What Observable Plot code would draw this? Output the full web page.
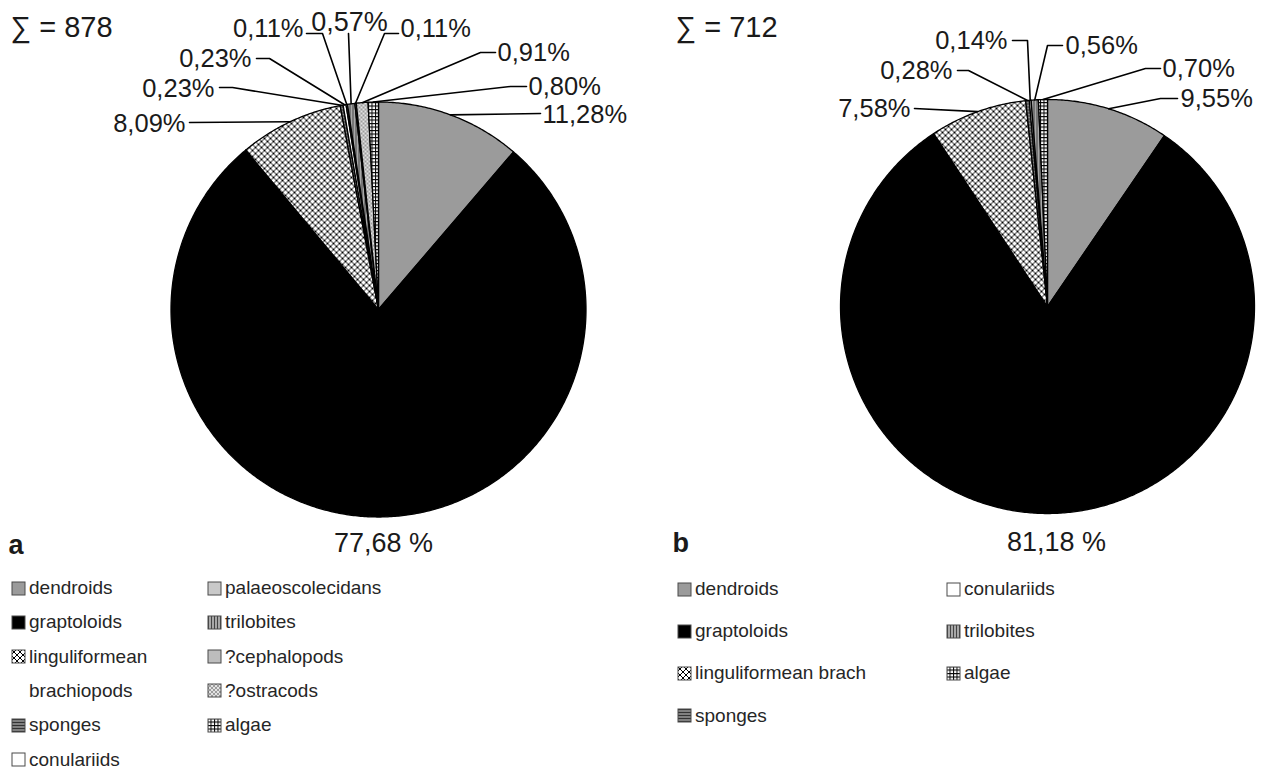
<!DOCTYPE html>
<html><head><meta charset="utf-8">
<script src="https://cdn.jsdelivr.net/npm/d3@7"></script>
<script src="https://cdn.jsdelivr.net/npm/@observablehq/plot@0.6"></script>
<style>
body{margin:0;background:#fff;font-family:"Liberation Sans",Arial,sans-serif;}
#wrap{position:relative;width:1262px;height:769px;overflow:hidden;}
#wrap > svg.plot{position:absolute;left:0;top:0;}
.leg{position:absolute;height:20px;display:flex;align-items:center;font-size:19px;line-height:20px;color:#262626;white-space:nowrap;}
.leg svg{flex:none;}
</style></head><body>
<svg width="0" height="0" style="position:absolute">
  <defs>
    <pattern id="p-cross" patternUnits="userSpaceOnUse" width="6" height="6">
      <rect width="6" height="6" fill="#fff"/>
      <path d="M0,0L6,6M6,0L0,6" stroke="#000" stroke-width="1"/>
    </pattern>
    <pattern id="p-grid" patternUnits="userSpaceOnUse" width="3.5" height="3.5">
      <rect width="3.5" height="3.5" fill="#fff"/>
      <path d="M0.5,0V3.5M0,0.5H3.5" stroke="#000" stroke-width="1"/>
    </pattern>
    <pattern id="p-dots" patternUnits="userSpaceOnUse" width="4" height="4">
      <rect width="4" height="4" fill="#e2e2e2"/>
      <circle cx="1" cy="1" r="0.8" fill="#444"/>
      <circle cx="3" cy="3" r="0.8" fill="#444"/>
    </pattern>
    <pattern id="p-vert" patternUnits="userSpaceOnUse" width="3" height="3">
      <rect width="3" height="3" fill="#a8a8a8"/>
      <path d="M1.5,0V3" stroke="#444" stroke-width="1"/>
    </pattern>
    <pattern id="p-horiz" patternUnits="userSpaceOnUse" width="3" height="3">
      <rect width="3" height="3" fill="#808080"/>
      <path d="M0,1.5H3" stroke="#333" stroke-width="1"/>
    </pattern>
  </defs>
</svg>
<div id="wrap"></div>
<script>
// ---------------- data ----------------
const categoriesA = ["dendroids","graptoloids","linguliformean brachiopods","sponges","conulariids","palaeoscolecidans","trilobites","?cephalopods","?ostracods","algae"];
const valuesA = [11.28, 77.68, 8.09, 0.23, 0.23, 0.11, 0.57, 0.11, 0.91, 0.80];
const labelsA = ["11,28%","77,68 %","8,09%","0,23%","0,23%","0,11%","0,57%","0,11%","0,91%","0,80%"];
const totalA = 878;

const categoriesB = ["dendroids","graptoloids","linguliformean brach","sponges","conulariids","trilobites","algae"];
const valuesB = [9.55, 81.18, 7.58, 0.28, 0.14, 0.56, 0.70];
const labelsB = ["9,55%","81,18 %","7,58%","0,28%","0,14%","0,56%","0,70%"];
const totalB = 712;

// legend columns (text as in the reference)
const legendA1 = ["dendroids","graptoloids","linguliformean","brachiopods","sponges","conulariids"];
const legendA2 = ["palaeoscolecidans","trilobites","?cephalopods","?ostracods","algae"];
const legendB1 = ["dendroids","graptoloids","linguliformean brach","sponges"];
const legendB2 = ["conulariids","trilobites","algae"];

// ---------------- styles ----------------
const fillOf = {
  "dendroids": "#9b9b9b",
  "graptoloids": "#000000",
  "linguliformean brachiopods": "url(#p-cross)",
  "linguliformean brach": "url(#p-cross)",
  "linguliformean": "url(#p-cross)",
  "sponges": "url(#p-horiz)",
  "conulariids": "#ffffff",
  "palaeoscolecidans": "#c9c9c9",
  "trilobites": "url(#p-vert)",
  "?cephalopods": "#bdbdbd",
  "?ostracods": "url(#p-dots)",
  "algae": "url(#p-grid)"
};

// ---------------- layout ----------------
const W = 1262, H = 575;
const pieA = {cx: 378, cy: 309, r: 207.5};
const pieB = {cx: 1047, cy: 306, r: 207};
// label text positions and leader elbows (pixel layout), one per slice
const labelLayoutA = [
  {x: 542, y: 114, anchor: "start",  lead: [[540,113]]},
  {x: 383, y: 543, anchor: "middle", lead: null},
  {x: 185, y: 123, anchor: "end",    lead: [[189,122]]},
  {x: 214, y: 88,  anchor: "end",    lead: [[219,87],[232,87]]},
  {x: 251, y: 58,  anchor: "end",    lead: [[256,58],[269,58]]},
  {x: 303, y: 28,  anchor: "end",    lead: [[306,33],[322,33]]},
  {x: 349, y: 22,  anchor: "middle", lead: [[348,33]]},
  {x: 400, y: 28,  anchor: "start",  lead: [[398,33],[384,33]]},
  {x: 497, y: 52,  anchor: "start",  lead: [[495,52],[480,52]]},
  {x: 528, y: 86,  anchor: "start",  lead: [[526,86],[510,86]]}
];
const labelLayoutB = [
  {x: 1180, y: 98,  anchor: "start",  lead: [[1177,98],[1160,98]]},
  {x: 1056, y: 542, anchor: "middle", lead: null},
  {x: 910,  y: 108, anchor: "end",    lead: [[914,108]]},
  {x: 952,  y: 70,  anchor: "end",    lead: [[957,70],[968,70]]},
  {x: 1007, y: 40,  anchor: "end",    lead: [[1012,40],[1027,40]]},
  {x: 1065, y: 45,  anchor: "start",  lead: [[1062,45],[1047,45]]},
  {x: 1162, y: 68,  anchor: "start",  lead: [[1160,68],[1145,68]]}
];

// ---------------- derived geometry from data ----------------
function pieGeometry(name, cats, vals, labels, pie, layout) {
  const total = d3.sum(vals);
  const slices = [], leaders = [], texts = [];
  let acc = 0;
  vals.forEach((v, i) => {
    const a0 = acc / total * 2 * Math.PI, a1 = (acc + v) / total * 2 * Math.PI;
    acc += v;
    const key = name + i;
    const n = Math.max(2, Math.ceil((a1 - a0) / (Math.PI / 360)));
    slices.push({key, cat: cats[i], x: pie.cx, y: pie.cy});
    for (let k = 0; k <= n; k++) {
      const a = a0 + (a1 - a0) * k / n;
      slices.push({key, cat: cats[i], x: pie.cx + pie.r * Math.sin(a), y: pie.cy - pie.r * Math.cos(a)});
    }
    slices.push({key, cat: cats[i], x: pie.cx, y: pie.cy});
    const L = layout[i];
    texts.push({x: L.x, y: L.y, text: labels[i], anchor: L.anchor});
    if (L.lead) {
      const am = (a0 + a1) / 2;
      L.lead.forEach(p => leaders.push({key, x: p[0], y: p[1]}));
      leaders.push({key, x: pie.cx + pie.r * Math.sin(am), y: pie.cy - pie.r * Math.cos(am)});
    }
  });
  return {slices, leaders, texts};
}

const gA = pieGeometry("a", categoriesA, valuesA, labelsA, pieA, labelLayoutA);
const gB = pieGeometry("b", categoriesB, valuesB, labelsB, pieB, labelLayoutB);
const slices = gA.slices.concat(gB.slices);
const leaders = gA.leaders.concat(gB.leaders);
const texts = gA.texts.concat(gB.texts);
const sums = [
  {x: 10, y: 27, text: "\u2211 = " + totalA},
  {x: 675, y: 27, text: "\u2211 = " + totalB}
];
const panels = [
  {x: 8, y: 545, text: "a"},
  {x: 672, y: 543, text: "b"}
];

const font = "'Liberation Sans', Arial, sans-serif";
const plot = Plot.plot({
  width: W, height: H, margin: 0,
  x: {domain: [0, W], range: [0, W], axis: null},
  y: {domain: [0, H], range: [0, H], axis: null},
  color: {type: "identity"},
  style: {fontFamily: font, background: "white", overflow: "visible"},
  marks: [
    Plot.line(slices, {x: "x", y: "y", z: "key", fill: d => fillOf[d.cat], stroke: "#000", strokeWidth: 1.3, strokeLinejoin: "round", curve: "linear"}),
    Plot.line(leaders, {x: "x", y: "y", z: "key", stroke: "#000", strokeWidth: 1.6, curve: "linear"}),
    Plot.text(texts.filter(d => d.anchor === "start"), {x: "x", y: "y", text: "text", textAnchor: "start", fontSize: 25.5, fill: "#1a1a1a"}),
    Plot.text(texts.filter(d => d.anchor === "end"), {x: "x", y: "y", text: "text", textAnchor: "end", fontSize: 25.5, fill: "#1a1a1a"}),
    Plot.text(texts.filter(d => d.anchor === "middle"), {x: "x", y: "y", text: "text", textAnchor: "middle", fontSize: 27, fill: "#1a1a1a"}),
    Plot.text(sums, {x: "x", y: "y", text: "text", textAnchor: "start", fontSize: 29, fill: "#1a1a1a"}),
    Plot.text(panels, {x: "x", y: "y", text: "text", textAnchor: "start", fontSize: 27, fontWeight: "bold", fill: "#1a1a1a"})
  ]
});
plot.classList.add("plot");
const wrap = document.getElementById("wrap");
wrap.appendChild(plot);

// ---------------- legends ----------------
function addLegend(items, x, y0, dy) {
  items.forEach((name, i) => {
    const div = document.createElement("div");
    div.className = "leg";
    div.style.left = x + "px";
    div.style.top = (y0 + i * dy - 10) + "px";
    const f = fillOf[name];
    const sw = f ? `<svg width="15" height="15" style="margin-right:3px"><rect x="1" y="1" width="13" height="13" fill="${f}" stroke="#4a4a4a" stroke-width="1"/></svg>`
                 : `<span style="display:inline-block;width:18px"></span>`;
    div.innerHTML = sw + `<span>${name}</span>`;
    wrap.appendChild(div);
  });
}
addLegend(legendA1, 11, 588, 34.3);
addLegend(legendA2, 207, 588, 34.3);
addLegend(legendB1, 677, 589, 42.2);
addLegend(legendB2, 946, 589, 42.2);
</script>
</body></html>
